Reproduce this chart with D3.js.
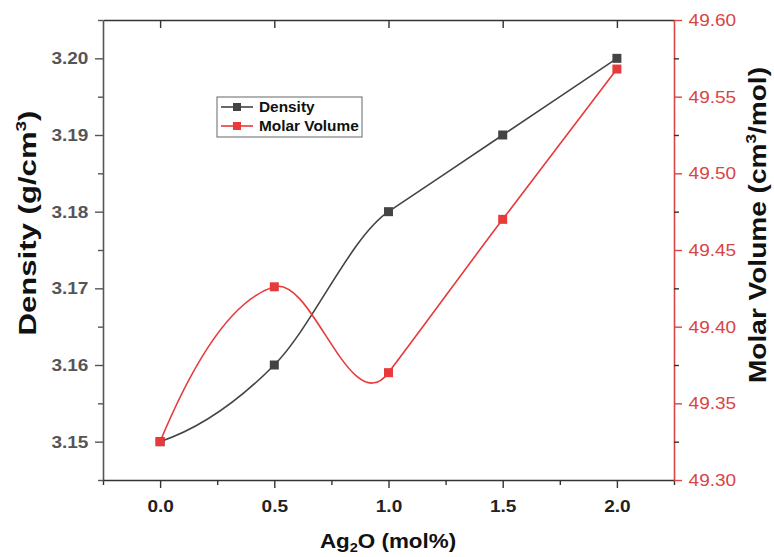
<!DOCTYPE html>
<html><head><meta charset="utf-8">
<script src="https://cdn.jsdelivr.net/npm/d3@7"></script>
<style>body{margin:0;background:#fff} text{font-family:"Liberation Sans",Arial,sans-serif}</style>
</head><body><svg id="c" width="774" height="557"></svg>
<script>
const xValues=[0,0.5,1.0,1.5,2.0];
const density=[3.15,3.16,3.18,3.19,3.20];
const molarVolume=[49.325,49.426,49.370,49.470,49.568];
const xTicks=[0,0.5,1.0,1.5,2.0];
const xMinor=[-0.25,0.25,0.75,1.25,1.75,2.25];
const densityTicks=[3.15,3.16,3.17,3.18,3.19,3.20];
const densityMinor=[3.145,3.155,3.165,3.175,3.185,3.195,3.205];
const molarTicks=[49.30,49.35,49.40,49.45,49.50,49.55,49.60];
const molarMinor=[49.325,49.375,49.425,49.475,49.525,49.575];

const L=103,R=674,T=20,B=480;
const SX=1.12;
const grey="#444", red="#e8393b", axisRed="#d84545";
const svg=d3.select("#c");
const x=d3.scaleLinear().domain([-0.25,2.25]).range([L,R]);
const yD=d3.scaleLinear().domain([3.145,3.205]).range([B,T]);
const yM=d3.scaleLinear().domain([49.30,49.60]).range([B,T]);

// Akima spline curve factory for d3.line
function curveAkima(context){
  let xs,ys;
  return {
    areaStart(){},areaEnd(){},
    lineStart(){xs=[];ys=[];},
    point(px,py){xs.push(+px);ys.push(+py);},
    lineEnd(){
      const n=xs.length;
      if(n<2)return;
      const m=[];
      for(let i=0;i<n-1;i++)m.push((ys[i+1]-ys[i])/(xs[i+1]-xs[i]));
      const mm=i=>{
        if(i>=0&&i<n-1)return m[i];
        if(i===-1)return 2*m[0]-m[1];
        if(i===-2)return 2*(2*m[0]-m[1])-m[0];
        if(i===n-1)return 2*m[n-2]-m[n-3];
        if(i===n)return 2*(2*m[n-2]-m[n-3])-m[n-2];
      };
      const t=[];
      for(let i=0;i<n;i++){
        const w1=Math.abs(mm(i+1)-mm(i)),w2=Math.abs(mm(i-1)-mm(i-2));
        t.push(w1+w2===0?(mm(i-1)+mm(i))/2:(w1*mm(i-1)+w2*mm(i))/(w1+w2));
      }
      context.moveTo(xs[0],ys[0]);
      for(let i=0;i<n-1;i++){
        const dx=(xs[i+1]-xs[i])/3;
        context.bezierCurveTo(xs[i]+dx,ys[i]+t[i]*dx,xs[i+1]-dx,ys[i+1]-t[i+1]*dx,xs[i+1],ys[i+1]);
      }
    }
  };
}

function styleAxis(g,color){
  g.select(".domain").attr("stroke",color).attr("stroke-width",1.6);
  g.selectAll(".tick line").attr("stroke",color).attr("stroke-width",1.4);
}
// bottom
const gb=svg.append("g").attr("transform",`translate(0,${B})`)
  .call(d3.axisBottom(x).tickValues(xTicks).tickSize(8).tickSizeOuter(0).tickPadding(12).tickFormat(d3.format(".1f")));
styleAxis(gb,"#333");
gb.selectAll(".tick text").attr("font-size",17).attr("font-weight","bold").attr("fill","#222")
  .attr("transform",`scale(${SX},1)`);
const gbm=svg.append("g").attr("transform",`translate(0,${B})`)
  .call(d3.axisBottom(x).tickValues(xMinor).tickSize(5).tickSizeOuter(0).tickFormat(""));
styleAxis(gbm,"#333"); gbm.select(".domain").remove();
// top
const gt=svg.append("g").attr("transform",`translate(0,${T})`)
  .call(d3.axisTop(x).tickValues(xTicks).tickSize(-8).tickSizeOuter(0).tickFormat(""));
styleAxis(gt,"#333");
// left
const gl=svg.append("g").attr("transform",`translate(${L},0)`)
  .call(d3.axisLeft(yD).tickValues(densityTicks).tickSize(8).tickSizeOuter(0).tickPadding(5).tickFormat(d3.format(".2f")));
styleAxis(gl,"#555");
gl.selectAll(".tick text").attr("font-size",17).attr("font-weight","bold").attr("fill","#555")
  .attr("transform",`scale(${SX},1)`);
const glm=svg.append("g").attr("transform",`translate(${L},0)`)
  .call(d3.axisLeft(yD).tickValues(densityMinor).tickSize(5).tickSizeOuter(0).tickFormat(""));
styleAxis(glm,"#555"); glm.select(".domain").remove();
// right
const gr=svg.append("g").attr("transform",`translate(${R},0)`)
  .call(d3.axisRight(yM).tickValues(molarTicks).tickSize(8).tickSizeOuter(0).tickPadding(5).tickFormat(d3.format(".2f")));
styleAxis(gr,axisRed);
gr.selectAll(".tick text").attr("font-size",17).attr("fill",axisRed)
  .attr("transform",`scale(${SX},1)`);
const grm=svg.append("g").attr("transform",`translate(${R},0)`)
  .call(d3.axisRight(yM).tickValues(molarMinor).tickSize(5).tickSizeOuter(0).tickFormat(""));
styleAxis(grm,"#333"); grm.select(".domain").remove();

// lines
const lineD=d3.line().x((d,i)=>x(xValues[i])).y(d=>yD(d)).curve(curveAkima);
const lineM=d3.line().x((d,i)=>x(xValues[i])).y(d=>yM(d)).curve(curveAkima);
svg.append("path").attr("d",lineD(density)).attr("fill","none").attr("stroke",grey).attr("stroke-width",1.6);
svg.append("path").attr("d",lineM(molarVolume)).attr("fill","none").attr("stroke",red).attr("stroke-width",1.6);
const ms=9;
svg.selectAll(".md").data(density).join("rect").attr("x",(d,i)=>x(xValues[i])-ms/2).attr("y",d=>yD(d)-ms/2)
  .attr("width",ms).attr("height",ms).attr("fill",grey);
svg.selectAll(".mm").data(molarVolume).join("rect").attr("x",(d,i)=>x(xValues[i])-ms/2).attr("y",d=>yM(d)-ms/2)
  .attr("width",ms).attr("height",ms).attr("fill",red);

// legend
const lg=svg.append("g");
lg.append("rect").attr("x",217).attr("y",97).attr("width",145).attr("height",40).attr("fill","#fff").attr("stroke","#666").attr("stroke-width",1);
const items=[["Density",grey],["Molar Volume",red]];
items.forEach((it,i)=>{
  const yy=107+i*19;
  lg.append("line").attr("x1",221).attr("x2",253).attr("y1",yy).attr("y2",yy).attr("stroke",it[1]).attr("stroke-width",1.6);
  lg.append("rect").attr("x",237-4).attr("y",yy-4).attr("width",8).attr("height",8).attr("fill",it[1]);
  lg.append("text").attr("x",0).attr("y",0).attr("font-size",14).attr("font-weight","bold").attr("fill","#111")
    .attr("transform",`translate(259,${yy+5}) scale(1.1,1)`).text(it[0]);
});

// titles
const xt=svg.append("text").attr("x",388).attr("y",548).attr("text-anchor","middle")
  .attr("font-size",20).attr("font-weight","bold").attr("fill","#111")
  .attr("transform",`translate(388,0) scale(${SX},1) translate(-388,0)`);
xt.append("tspan").text("Ag");
xt.append("tspan").text("2").attr("font-size",13).attr("dy",4);
xt.append("tspan").text("O (mol%)").attr("dy",-4);

const lt=svg.append("text").attr("transform","translate(36,223) rotate(-90)").attr("text-anchor","middle")
  .attr("font-size",23).attr("font-weight","bold").attr("fill","#111")
  .attr("textLength",225).attr("lengthAdjust","spacingAndGlyphs");
lt.append("tspan").text("Density (g/cm");
lt.append("tspan").text("3").attr("font-size",14).attr("dy",-10);
lt.append("tspan").text(")").attr("dy",10);

const rt=svg.append("text").attr("transform","translate(766,225) rotate(-90)").attr("text-anchor","middle")
  .attr("font-size",23).attr("font-weight","bold").attr("fill","#111")
  .attr("textLength",316).attr("lengthAdjust","spacingAndGlyphs");
rt.append("tspan").text("Molar Volume (cm");
rt.append("tspan").text("3").attr("font-size",14).attr("dy",-10);
rt.append("tspan").text("/mol)").attr("dy",10);
</script></body></html>
